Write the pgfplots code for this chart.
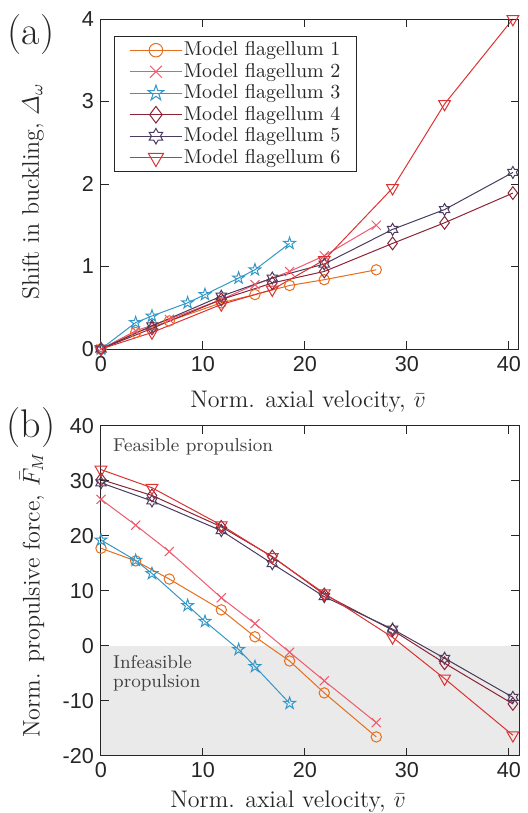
\documentclass[border=0pt]{standalone}
\usepackage{amsmath}
\usepackage{fontspec}
\usepackage{pgfplots}
\pgfplotsset{compat=1.18}
\newfontfamily\tickfont{Liberation Sans}

\definecolor{axcol}{HTML}{262626}
\definecolor{cOne}{HTML}{E66E1E}
\definecolor{cTwo}{HTML}{EE5A6E}
\definecolor{cThree}{HTML}{3397C8}
\definecolor{cFour}{HTML}{8C2337}
\definecolor{cFive}{HTML}{4B3C5F}
\definecolor{cSix}{HTML}{DC3232}
\definecolor{shade}{HTML}{E9EAE9}

% outlined five and six pointed stars, like matlab's
\pgfdeclareplotmark{pentagram}{%
  \pgfpathmoveto{\pgfpointpolar{90}{1.25\pgfplotmarksize}}%
  \pgfpathlineto{\pgfpointpolar{126}{0.48\pgfplotmarksize}}%
  \pgfpathlineto{\pgfpointpolar{162}{1.25\pgfplotmarksize}}%
  \pgfpathlineto{\pgfpointpolar{198}{0.48\pgfplotmarksize}}%
  \pgfpathlineto{\pgfpointpolar{234}{1.25\pgfplotmarksize}}%
  \pgfpathlineto{\pgfpointpolar{270}{0.48\pgfplotmarksize}}%
  \pgfpathlineto{\pgfpointpolar{306}{1.25\pgfplotmarksize}}%
  \pgfpathlineto{\pgfpointpolar{342}{0.48\pgfplotmarksize}}%
  \pgfpathlineto{\pgfpointpolar{18}{1.25\pgfplotmarksize}}%
  \pgfpathlineto{\pgfpointpolar{54}{0.48\pgfplotmarksize}}%
  \pgfpathclose\pgfusepathqstroke}
\pgfdeclareplotmark{hexagram}{%
  \pgfpathmoveto{\pgfpointpolar{90}{1.2\pgfplotmarksize}}%
  \pgfpathlineto{\pgfpointpolar{120}{0.69\pgfplotmarksize}}%
  \pgfpathlineto{\pgfpointpolar{150}{1.2\pgfplotmarksize}}%
  \pgfpathlineto{\pgfpointpolar{180}{0.69\pgfplotmarksize}}%
  \pgfpathlineto{\pgfpointpolar{210}{1.2\pgfplotmarksize}}%
  \pgfpathlineto{\pgfpointpolar{240}{0.69\pgfplotmarksize}}%
  \pgfpathlineto{\pgfpointpolar{270}{1.2\pgfplotmarksize}}%
  \pgfpathlineto{\pgfpointpolar{300}{0.69\pgfplotmarksize}}%
  \pgfpathlineto{\pgfpointpolar{330}{1.2\pgfplotmarksize}}%
  \pgfpathlineto{\pgfpointpolar{0}{0.69\pgfplotmarksize}}%
  \pgfpathlineto{\pgfpointpolar{30}{1.2\pgfplotmarksize}}%
  \pgfpathlineto{\pgfpointpolar{60}{0.69\pgfplotmarksize}}%
  \pgfpathclose\pgfusepathqstroke}

\pgfplotsset{
  panel/.style={
    width=209pt, height=165pt, scale only axis,
    xmin=0, xmax=41, xtick={0,10,20,30,40},
    tick align=inside, major tick length=4pt,
    tick style={color=axcol, line width=0.5pt},
    axis line style={color=axcol, line width=0.5pt},
    xticklabel={\tickfont\pgfmathprintnumber[assume math mode=true]{\tick}},
    yticklabel={\tickfont\pgfmathprintnumber[assume math mode=true]{\tick}},
    tick label style={font=\tickfont\fontsize{10.8}{12}\selectfont, text=axcol},
    label style={font=\fontsize{12}{14}\selectfont, text=axcol},
    axis on top, clip=false,
    every axis plot/.append style={line width=0.5pt},
  },
  s1/.style={cOne, mark=o, mark size=2.6pt},
  s2/.style={cTwo, mark=x, mark size=3.2pt},
  s3/.style={cThree, mark=pentagram, mark size=2.5pt},
  s4/.style={cFour, mark=diamond, mark size=3.2pt},
  s5/.style={cFive, mark=hexagram, mark size=2.5pt},
  s6/.style={cSix, mark=triangle, mark size=3.4pt, mark options={rotate=180}},
}

\begin{document}
\begin{tikzpicture}
% (a) shift in buckling
\begin{axis}[panel, at={(0pt,0pt)}, anchor=south west,
  ymin=0, ymax=4, ytick={0,1,2,3,4},
  xlabel={Norm. axial velocity, $\bar{v}$},
  xlabel style={at={(0.5,0)}, anchor=center, yshift=-26.5pt, xshift=-1pt},
  ylabel={Shift in buckling, $\varDelta_{\omega}$},
  ylabel style={at={(-0.163,0.477)}, anchor=center},
  legend cell align=left,
  legend style={at={(0.03,0.948)}, anchor=north west, draw=axcol,
    line width=0.5pt, font=\fontsize{10}{11.5}\selectfont, text=axcol,
    nodes={inner sep=0.5pt}, inner xsep=7.5pt, inner ysep=2pt, row sep=1.2pt},
  legend image code/.code={\draw[mark repeat=2, mark phase=2, #1,
    every mark/.append style={scale=1.3}]
    plot coordinates {(0pt,0pt) (13.2pt,0pt) (26.4pt,0pt)};},
]
\addplot[s1] coordinates {(0,0) (3.4,0.20) (6.7,0.34) (11.8,0.56) (15.1,0.66) (18.5,0.77) (21.9,0.84) (27.0,0.96)};
\addplot[s2] coordinates {(0,0) (3.4,0.22) (6.7,0.36) (11.8,0.60) (15.1,0.78) (18.5,0.94) (21.9,1.13) (27.0,1.50)};
\addplot[s3] coordinates {(0,0) (3.4,0.32) (5.0,0.40) (8.5,0.56) (10.2,0.66) (13.5,0.86) (15.1,0.96) (18.5,1.28)};
\addplot[s4] coordinates {(0,0) (5.0,0.25) (11.8,0.60) (16.8,0.80) (21.9,0.94) (28.6,1.28) (33.7,1.53) (40.4,1.89)};
\addplot[s5] coordinates {(0,0) (5.0,0.28) (11.8,0.64) (16.8,0.86) (21.9,1.03) (28.6,1.45) (33.7,1.69) (40.4,2.14)};
\addplot[s6] coordinates {(0,0) (5.0,0.20) (11.8,0.54) (16.8,0.72) (21.9,1.08) (28.6,1.95) (33.7,2.97) (40.4,4.00)};
\legend{Model flagellum 1, Model flagellum 2, Model flagellum 3, Model flagellum 4, Model flagellum 5, Model flagellum 6}
\node[font=\fontsize{20}{22}\selectfont, text=axcol] at (rel axis cs:0,0) [xshift=-35pt, yshift=157pt] {(a)};
\end{axis}

% (b) propulsive force
\begin{axis}[panel, at={(0pt,-203.3pt)}, anchor=south west,
  ymin=-20, ymax=40, ytick={-20,-10,0,10,20,30,40},
  xlabel={Norm. axial velocity, $\bar{v}$},
  xlabel style={at={(0.5,0)}, anchor=center, yshift=-23.2pt, xshift=-11pt},
  ylabel={Norm. propulsive force, $\bar{F}_M$},
  ylabel style={at={(-0.165,0.486)}, anchor=center},
]
\addplot[fill=shade, draw=none, forget plot] coordinates {(0,-20) (41,-20) (41,0) (0,0)} -- cycle;
\addplot[s1] coordinates {(0,17.7) (3.4,15.4) (6.7,12.1) (11.8,6.5) (15.1,1.6) (18.5,-2.8) (21.9,-8.6) (27.0,-16.6)};
\addplot[s2] coordinates {(0,26.6) (3.4,21.9) (6.7,17.1) (11.8,8.7) (15.1,4.0) (18.5,-1.2) (21.9,-6.4) (27.0,-14.0)};
\addplot[s3] coordinates {(0,19.2) (3.4,15.5) (5.0,13.1) (8.5,7.3) (10.2,4.4) (13.5,-0.7) (15.1,-3.8) (18.5,-10.5)};
\addplot[s4] coordinates {(0,30.2) (5.0,27.3) (11.8,21.6) (16.8,16.2) (21.9,9.3) (28.6,2.8) (33.7,-3.2) (40.4,-10.6)};
\addplot[s5] coordinates {(0,29.6) (5.0,26.3) (11.8,20.9) (16.8,14.9) (21.9,8.9) (28.6,3.0) (33.7,-2.3) (40.4,-9.4)};
\addplot[s6] coordinates {(0,32.0) (5.0,28.7) (11.8,21.9) (16.8,16.1) (21.9,9.5) (28.6,1.5) (33.7,-6.0) (40.4,-16.3)};
\node[font=\fontsize{9.3}{11}\selectfont, text=black!75, anchor=west] at (axis cs:0.5,36.2) {Feasible propulsion};
\node[font=\fontsize{9.3}{11}\selectfont, text=black!75, anchor=west, align=left] at (axis cs:0.5,-5.0) {Infeasible\\[-1.5pt]propulsion};
\node[font=\fontsize{20}{22}\selectfont, text=axcol] at (rel axis cs:0,0) [xshift=-35pt, yshift=163.9pt] {(b)};
\end{axis}

\pgfresetboundingbox
\path (-50.5pt,-232pt) rectangle (213pt,174.5pt);
\end{tikzpicture}
\end{document}
